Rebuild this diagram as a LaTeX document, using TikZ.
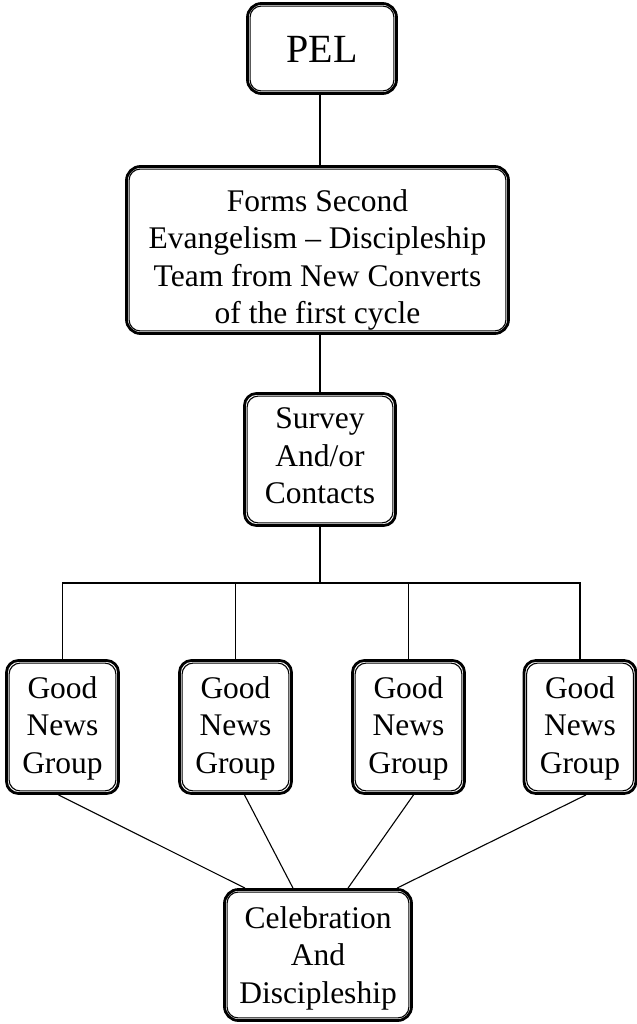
\documentclass[tikz,border=0pt]{standalone}
\usepackage{fontspec}
\setmainfont{Liberation Serif}
\begin{document}
\begin{tikzpicture}[x=1bp,y=-1bp,
  % rounded frame: heavy outer rule; the thin inner rule is added below
  dbox/.style={draw, line width=2.8bp, rounded corners=14bp, inner sep=0pt},
  inrule/.style={draw, line width=1.1bp, rounded corners=11bp},
  txt/.style={align=center, inner sep=0pt, font=\fontsize{31.5bp}{37.5bp}\selectfont},
  link/.style={line width=1.1bp}]
\useasboundingbox (0,0) rectangle (637,1024);

% frames
\node[dbox, minimum width=149bp, minimum height=90bp] (pel) at (322,48.5) {};
\node[dbox, minimum width=382bp, minimum height=167bp] (form) at (317.5,250) {};
\node[dbox, minimum width=151bp, minimum height=132bp, rounded corners=12bp] (survey) at (320,459.5) {};
\foreach \n/\x in {gn1/62.5, gn2/235.5, gn3/408.5, gn4/580}
  \node[dbox, minimum width=112bp, minimum height=133bp, rounded corners=12bp] (\n) at (\x,727) {};
\node[dbox, minimum width=187bp, minimum height=131bp] (cel) at (318,955) {};

% inner rules
\foreach \n in {pel, form, survey, gn1, gn2, gn3, gn4, cel}
  \draw[inrule] ([shift={(4,4)}]\n.north west) rectangle ([shift={(-4,-4)}]\n.south east);

% texts
\node[txt, font=\fontsize{40bp}{44bp}\selectfont] (pelt) at ([yshift=-1bp]pel.center) {PEL};
\node[txt] (formt) at ([yshift=-10bp]form.center)
  {Forms Second\\Evangelism -- Discipleship\\Team from New Converts\\of the first cycle};
\node[txt] (surveyt) at ([yshift=3.5bp]survey.center) {Survey\\And/or\\Contacts};
\foreach \n in {gn1, gn2, gn3, gn4}
  \node[txt] (\n t) at ([yshift=-1bp]\n.center) {Good\\News\\Group};
\node[txt] (celt) at ([yshift=-3bp]cel.center) {Celebration\\And\\Discipleship};

% vertical chain, all on the axis of the survey box
\draw[link] (survey.north |- pel.south) -- (survey.north |- form.north);
\draw[link] (survey.north |- form.south) -- (survey.north);

% distribution bus
\coordinate (bus) at (320,583);
\draw[link] (survey.south) -- (bus);
\draw[link] (gn1.north) -- (gn1.north |- bus) -- (gn4.north |- bus) -- (gn4.north);
\draw[link] (gn2.north) -- (gn2.north |- bus);
\draw[link] (gn3.north) -- (gn3.north |- bus);

% gathering lines
\draw[link] ([xshift=-4bp]gn1.south) -- ([xshift=-73bp]cel.north);
\draw[link] ([xshift=9bp]gn2.south) -- ([xshift=-25bp]cel.north);
\draw[link] ([xshift=5bp]gn3.south) -- ([xshift=30bp]cel.north);
\draw[link] ([xshift=6bp]gn4.south) -- ([xshift=79bp]cel.north);
\end{tikzpicture}
\end{document}
